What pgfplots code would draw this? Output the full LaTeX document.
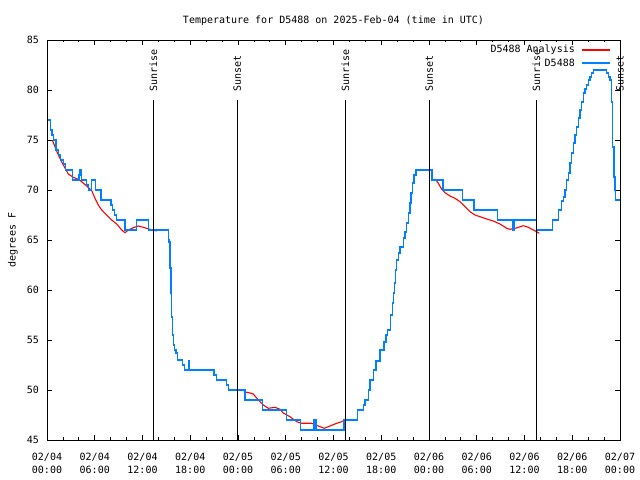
\documentclass[border=0pt]{standalone}
\usepackage{fontspec}
\setmainfont{DejaVu Sans Mono}
\usepackage{pgfplots}
\usepackage{pgfplotstable}
\pgfplotsset{compat=1.18}
\definecolor{obsblue}{RGB}{0,128,255}
\definecolor{anared}{RGB}{255,0,0}
\newcommand{\gfont}{\fontsize{10bp}{13.3bp}\selectfont}

\pgfplotstableread{
h T
0.10 77.0
0.46 76.0
0.62 75.5
0.79 75.0
1.13 74.0
1.42 73.5
1.72 73.0
2.05 72.6
2.30 72.0
3.18 71.0
4.02 71.5
4.15 72.0
4.36 71.0
4.99 70.5
5.19 70.0
5.62 71.0
6.09 70.0
6.79 69.0
8.04 68.5
8.26 68.0
8.51 67.5
8.76 67.0
9.80 66.0
11.27 67.0
12.73 66.0
15.24 65.0
15.33 64.8
15.46 62.2
15.58 59.7
15.67 57.3
15.79 55.5
15.92 54.5
16.05 54.0
16.21 53.7
16.42 53.0
17.05 52.5
17.25 52.0
17.76 52.9
17.88 52.0
20.98 51.5
21.32 51.0
22.58 50.5
22.78 50.0
24.88 49.0
27.10 48.0
30.12 47.0
31.88 46.0
33.55 47.0
33.80 46.0
37.32 47.0
38.99 48.0
39.74 48.5
39.96 49.0
40.37 50.0
40.58 51.0
41.00 52.0
41.34 52.9
41.84 54.0
42.35 54.8
42.60 55.5
42.76 56.0
43.19 57.5
43.39 58.7
43.52 59.7
43.64 60.7
43.82 62.0
43.94 63.0
44.14 63.7
44.36 64.3
44.77 65.2
44.98 65.8
45.20 66.7
45.40 67.7
45.61 68.7
45.74 69.7
45.95 70.7
46.12 71.5
46.37 72.0
48.38 71.0
49.76 70.0
52.21 69.0
53.65 68.0
56.61 67.0
58.55 66.0
58.77 67.0
61.51 66.0
63.52 67.0
64.25 68.0
64.67 68.9
64.88 69.3
65.09 70.0
65.30 71.0
65.50 71.7
65.72 72.7
65.93 73.7
66.13 74.7
66.35 75.5
66.56 76.3
66.76 77.2
66.97 78.0
67.19 78.8
67.39 79.7
67.60 80.1
67.82 80.5
68.02 81.0
68.23 81.3
68.44 81.7
68.65 82.0
70.33 81.7
70.53 81.3
70.75 81.0
70.96 78.8
71.08 74.3
71.25 71.3
71.37 70.0
71.46 69.0
72.00 69.0
}\obs

\pgfplotstableread{
h T
0.67 75.0
1.01 74.3
1.42 73.5
1.85 72.8
2.26 72.2
2.68 71.6
3.30 71.27
3.93 71.07
4.36 70.83
4.99 70.4
5.62 69.93
6.03 69.17
6.45 68.5
6.87 68.0
7.50 67.5
8.13 67.0
8.76 66.6
9.39 66.0
9.80 65.73
10.22 66.0
10.84 66.23
11.47 66.4
12.10 66.27
12.94 66.07
13.78 65.9
}\anaA

\pgfplotstableread{
h T
24.88 49.8
25.51 49.7
25.92 49.6
26.55 49.0
27.18 48.5
27.81 48.17
28.65 48.27
29.28 48.07
29.69 47.7
30.53 47.33
31.38 46.83
32.00 46.67
33.26 46.67
34.09 46.4
34.84 46.17
35.56 46.4
36.40 46.67
37.03 46.83
37.57 47.07
}\anaB

\pgfplotstableread{
h T
48.88 71.0
49.17 70.67
49.60 70.07
50.01 69.73
50.64 69.4
51.27 69.17
51.90 68.83
52.53 68.33
53.15 67.83
53.78 67.5
54.41 67.33
55.25 67.1
56.08 66.9
56.92 66.6
57.76 66.17
58.18 66.07
58.81 66.17
59.22 66.27
59.85 66.43
60.48 66.27
61.11 66.0
61.53 65.83
61.86 65.67
}\anaC

\begin{document}
\begin{tikzpicture}
\useasboundingbox (0,0) rectangle (640bp,480bp);
\begin{axis}[
  at={(47bp,40bp)}, anchor=south west,
  scale only axis, width=573bp, height=400bp,
  font=\gfont,
  xmin=0, xmax=72, ymin=45, ymax=85,
  xtick={0,6,...,72},
  minor x tick num=2,
  xticklabels={{02/04\\00:00},{02/04\\06:00},{02/04\\12:00},{02/04\\18:00},{02/05\\00:00},{02/05\\06:00},{02/05\\12:00},{02/05\\18:00},{02/06\\00:00},{02/06\\06:00},{02/06\\12:00},{02/06\\18:00},{02/07\\00:00}},
  xticklabel style={align=center, font=\gfont, yshift=-9.5bp},
  ytick={45,50,...,85},
  yticklabel style={font=\gfont, xshift=-4.5bp},
  /pgf/number format/assume math mode=true,
  major tick length=5bp, minor tick length=2.5bp,
  tick style={black, line width=0.8bp},
  axis line style={line width=0.8bp},
  title={Temperature for D5488 on 2025-Feb-04 (time in UTC)},
  title style={at={(axis description cs:0.5,1)}, anchor=base, yshift=11bp, font=\gfont},
  ylabel={degrees F},
  ylabel style={at={(axis description cs:-0.0593,0.5)}, anchor=center, font=\gfont},
  clip mode=individual,
]
\addplot[anared, line width=1.1bp] table[x=h,y=T] {\anaA};
\addplot[anared, line width=1.1bp] table[x=h,y=T] {\anaB};
\addplot[anared, line width=1.1bp] table[x=h,y=T] {\anaC};
\addplot[draw=obsblue, color=obsblue, line width=1.2bp, const plot] table[x=h,y=T] {\obs};
\addplot[black, line width=1bp] coordinates {(13.36,45) (13.36,79)};
\addplot[black, line width=1bp] coordinates {(23.91,45) (23.91,79)};
\addplot[black, line width=1bp] coordinates {(37.49,45) (37.49,79)};
\addplot[black, line width=1bp] coordinates {(48.04,45) (48.04,79)};
\addplot[black, line width=1bp] coordinates {(61.49,45) (61.49,79)};
\addplot[black, line width=1bp] coordinates {(72,45) (72,79)};
\node[rotate=90, anchor=west, font=\gfont, inner sep=0pt] at (axis cs:13.36,79.8) {Sunrise};
\node[rotate=90, anchor=west, font=\gfont, inner sep=0pt] at (axis cs:23.91,79.8) {Sunset};
\node[rotate=90, anchor=west, font=\gfont, inner sep=0pt] at (axis cs:37.49,79.8) {Sunrise};
\node[rotate=90, anchor=west, font=\gfont, inner sep=0pt] at (axis cs:48.04,79.8) {Sunset};
\node[rotate=90, anchor=west, font=\gfont, inner sep=0pt] at (axis cs:61.49,79.8) {Sunrise};
\node[rotate=90, anchor=west, font=\gfont, inner sep=0pt] at (axis cs:72,79.8) {Sunset};
% legend
\node[anchor=east, font=\gfont, inner sep=0pt] at (axis description cs:0.9215,0.975) {D5488 Analysis};
\draw[anared, line width=1.1bp] (axis description cs:0.9337,0.975) -- (axis description cs:0.9825,0.975);
\node[anchor=east, font=\gfont, inner sep=0pt] at (axis description cs:0.9215,0.9425) {D5488};
\draw[obsblue, line width=1.2bp] (axis description cs:0.9337,0.9425) -- (axis description cs:0.9825,0.9425);
\end{axis}
\end{tikzpicture}
\end{document}
